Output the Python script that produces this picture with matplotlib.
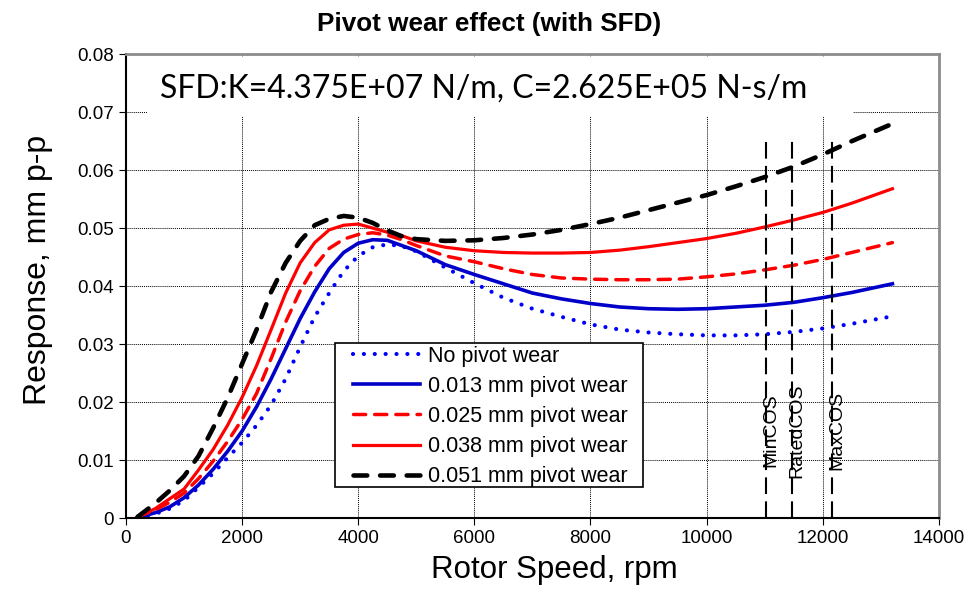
import numpy as np
import matplotlib.pyplot as plt
from matplotlib.patches import Rectangle

# rotor speed grid (rpm) shared by all curves
speed = [200, 500, 750, 1000, 1250, 1500, 1750, 2000, 2250, 2500, 2750, 3000,
         3250, 3500, 3750, 4000, 4250, 4500, 4750, 5000, 5500, 6000, 6500, 7000,
         7500, 8000, 8500, 9000, 9500, 10000, 10500, 11000, 11500, 12000, 12500, 13200]

# response, mm p-p
no_wear = [0.0001, 0.0007, 0.0016, 0.0030, 0.0053, 0.0077, 0.0104, 0.0130, 0.0160, 0.0195, 0.0240, 0.0295,
           0.0347, 0.0388, 0.0426, 0.0452, 0.0467, 0.0472, 0.0469, 0.0460, 0.0432, 0.0405, 0.0380, 0.0361,
           0.0347, 0.0334, 0.0325, 0.0320, 0.0317, 0.0315, 0.0315, 0.0317, 0.0321, 0.0327, 0.0335, 0.0348]
wear_013 = [0.0001, 0.0009, 0.0019, 0.0035, 0.0057, 0.0084, 0.0115, 0.0150, 0.0192, 0.0240, 0.0292, 0.0344,
            0.0390, 0.0430, 0.0458, 0.0474, 0.0480, 0.0479, 0.0470, 0.0461, 0.0437, 0.0420, 0.0404, 0.0388,
            0.0378, 0.0370, 0.0364, 0.0361, 0.0360, 0.0361, 0.0364, 0.0367, 0.0372, 0.0380, 0.0389, 0.0404]
wear_025 = [0.0002, 0.0014, 0.0027, 0.0043, 0.0068, 0.0098, 0.0132, 0.0170, 0.0215, 0.0275, 0.0338, 0.0392,
            0.0434, 0.0465, 0.0481, 0.0489, 0.0492, 0.0488, 0.0480, 0.0470, 0.0452, 0.0442, 0.0430, 0.0420,
            0.0414, 0.0412, 0.0411, 0.0411, 0.0412, 0.0416, 0.0421, 0.0428, 0.0436, 0.0446, 0.0458, 0.0475]
wear_038 = [0.0002, 0.0016, 0.0033, 0.0050, 0.0083, 0.0118, 0.0160, 0.0208, 0.0263, 0.0325, 0.0388, 0.0440,
            0.0475, 0.0497, 0.0505, 0.0507, 0.0500, 0.0493, 0.0487, 0.0478, 0.0467, 0.0461, 0.0458, 0.0457,
            0.0457, 0.0458, 0.0462, 0.0468, 0.0475, 0.0482, 0.0491, 0.0502, 0.0514, 0.0527, 0.0543, 0.0568]
wear_051 = [0.0002, 0.0025, 0.0047, 0.0072, 0.0107, 0.0155, 0.0207, 0.0266, 0.0325, 0.0390, 0.0440, 0.0478,
            0.0505, 0.0516, 0.0521, 0.0518, 0.0509, 0.0496, 0.0486, 0.0481, 0.0478, 0.0479, 0.0483, 0.0489,
            0.0497, 0.0507, 0.0518, 0.0531, 0.0544, 0.0557, 0.0572, 0.0588, 0.0606, 0.0627, 0.0650, 0.0680]

labels = ["No pivot wear", "0.013 mm pivot wear", "0.025 mm pivot wear",
          "0.038 mm pivot wear", "0.051 mm pivot wear"]

cos_names = ["MinCOS", "RatedCOS", "MaxCOS"]
cos_speed = [11025, 11475, 12165]
cos_top = 0.065

plt.rcParams['font.family'] = ['Liberation Sans', 'DejaVu Sans']

fig = plt.figure(figsize=(9.78, 5.89), dpi=100)
ax = fig.add_axes([0.1288, 0.1205, 0.8312, 0.7875])

ax.plot(speed, no_wear, color='#0000FF', lw=3.0, linestyle=(0, (0.01, 2.6)),
        dash_capstyle='round', label=labels[0])
ax.plot(speed, wear_013, color='#0000C8', lw=2.6, label=labels[1])
ax.plot(speed, wear_025, color='#FF0000', lw=2.5, linestyle=(0, (3.5, 2.6)),
        dash_capstyle='round', label=labels[2])
ax.plot(speed, wear_038, color='#FF0000', lw=2.3, label=labels[3])
ax.plot(speed, wear_051, color='black', lw=3.3, linestyle=(0, (3, 2.8)),
        dash_capstyle='round', label=labels[4])

for name, s in zip(cos_names, cos_speed):
    ax.plot([s, s], [0, cos_top], color='black', lw=1.5, linestyle=(0, (8, 3.5)))
    ax.text(s + 80, 0.0151, name, rotation=90, ha='center', va='center', fontsize=14)

ax.set_xlim(0, 14000)
ax.set_ylim(0, 0.08)
ax.set_xticks(np.arange(0, 14001, 2000))
ax.set_yticks(np.arange(0, 0.0801, 0.01))
ax.set_yticklabels(['0'] + ['%.2f' % v for v in np.arange(0.01, 0.0801, 0.01)])
ax.tick_params(direction='out', length=5, labelsize=13.5, color='black')
ax.set_axisbelow(True)
ax.grid(True, color='black', linestyle=(0, (1, 1)), lw=0.7)

for side in ['top', 'right']:
    ax.spines[side].set_color('#8c8c8c')
    ax.spines[side].set_linewidth(2)
for side in ['left', 'bottom']:
    ax.spines[side].set_linewidth(1.5)

# white box behind the annotation hides the grid there
ax.add_patch(Rectangle((0.026, 0.866), 0.868, 0.128, transform=ax.transAxes,
                       facecolor='white', edgecolor='none', zorder=1))
ax.text(0.042, 0.927, "SFD:K=4.375E+07 N/m, C=2.625E+05 N-s/m", transform=ax.transAxes,
        fontsize=23, family='Lato', va='center', ha='left', zorder=3)

fig.text(0.5, 1 - 24 / 589, "Pivot wear effect (with SFD)", fontsize=18.8,
         fontweight='bold', ha='center', va='center')
ax.set_xlabel("Rotor Speed, rpm", fontsize=22.5)
ax.xaxis.set_label_coords(0.527, -0.08)
ax.set_ylabel("Response, mm p-p", fontsize=23)
ax.yaxis.set_label_coords(-0.09, 0.534)

# legend frame drawn separately: wide side padding, tight top/bottom
ax.add_patch(Rectangle((0.2571, 0.0668), 0.3788, 0.3104, transform=ax.transAxes,
                       facecolor='white', edgecolor='black', lw=1.2, zorder=4.5))
leg = ax.legend(loc='upper left', bbox_to_anchor=(0.2792, 0.371), fontsize=15.5,
                handlelength=3.1, handletextpad=0.4, labelspacing=0.42,
                borderpad=0, frameon=False, borderaxespad=0)

fig.savefig("out.png", dpi=100)
